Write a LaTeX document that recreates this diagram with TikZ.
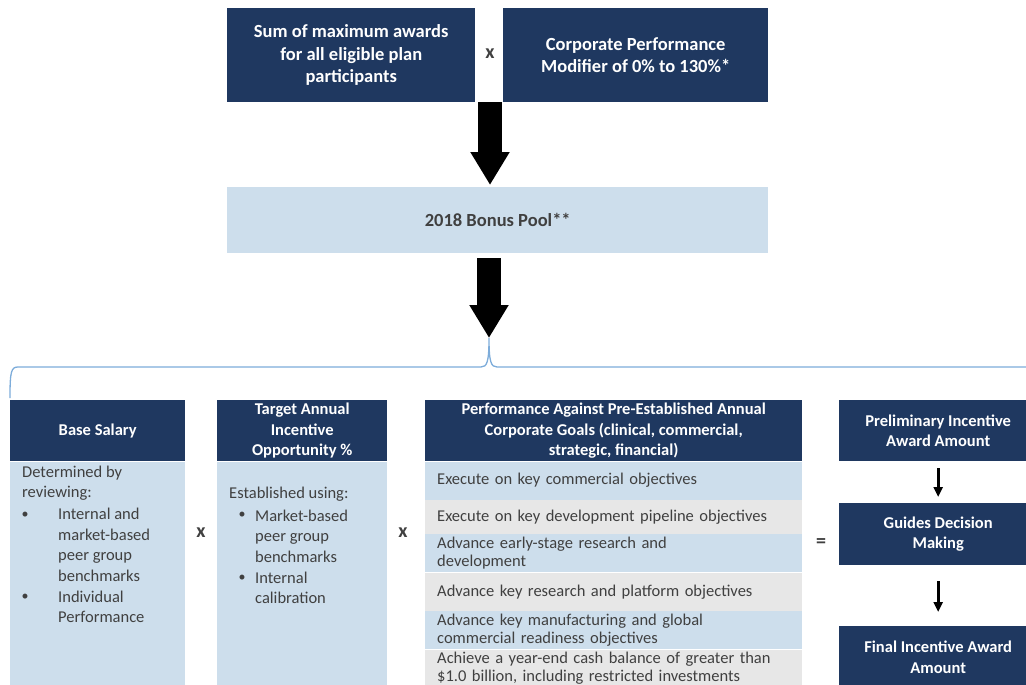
\documentclass[tikz,border=0pt]{standalone}
\usepackage{fontspec}
\setmainfont{Carlito}
\usetikzlibrary{positioning,arrows.meta}
\definecolor{navy}{RGB}{31,56,96}
\definecolor{paleblue}{RGB}{205,222,236}
\definecolor{palegrey}{RGB}{231,231,231}
\definecolor{bracecol}{RGB}{125,172,218}
\definecolor{ink}{RGB}{64,64,64}
\begin{document}
\begin{tikzpicture}[x=1pt,y=-1pt,
		tophead/.style={fill=navy,text=white,align=center,inner sep=0pt,anchor=north west,
			font=\fontsize{18.5}{22.5}\selectfont\bfseries},
		colhead/.style={fill=navy,text=white,align=center,inner sep=0pt,anchor=north west,
			font=\fontsize{16.5}{20.5}\selectfont\bfseries},
		colbody/.style={fill=paleblue,inner sep=0pt},
		goal/.style={inner xsep=12pt,inner ysep=0pt,text width=353pt,align=left,text=ink,
			font=\fontsize{16.5}{18}\selectfont},
		bluerow/.style={goal,fill=paleblue},
		greyrow/.style={goal,fill=palegrey},
		bodytxt/.style={inner sep=0pt,anchor=west,align=left,text=ink,
			font=\fontsize{16.5}{20.5}\selectfont},
		bul/.style={inner sep=0pt,text=ink,font=\fontsize{14}{14}\selectfont},
		sign/.style={inner sep=0pt,text=ink,font=\fontsize{20}{20}\selectfont\bfseries},
		bigarrow/.style={line width=24pt,-{Triangle[width=37pt,length=33pt]}},
		smallarrow/.style={line width=3pt,-{Triangle[width=9pt,length=10pt]}}]

	\useasboundingbox (0,0) rectangle (1026,685);

	% top row
	\node[tophead,minimum width=248,minimum height=94] (sum) at (227,8)
		{Sum of maximum awards\\for all eligible plan\\participants};
	\node[tophead,minimum width=265,minimum height=94] (modifier) at (503,8)
		{Corporate Performance\\Modifier of 0\% to 130\%*};
	\node[sign] (times0) at (490,54) {x};
	\node[fill=paleblue,anchor=north west,inner sep=0pt,minimum width=541,minimum height=66,
		text=ink,font=\fontsize{18.5}{22.5}\selectfont\bfseries] (pool) at (227,187) {2018 Bonus Pool**};
	\draw[bigarrow,shorten >=2pt] (times0 |- sum.south) -- (times0 |- pool.north);

	\coordinate (tip) at (489,338);
	\draw[bigarrow,shorten <=5pt] (tip |- pool.south) -- (tip);
	\draw[bracecol,line width=1.3pt] (10,398) .. controls (10,372) and (11,367) .. (18,367)
		-- (481,367) .. controls (487,367) and (489,362) .. (tip)
		.. controls (489,362) and (491,367) .. (497,367) -- (1030,367);

	% base salary
	\node[colhead,minimum width=175,minimum height=61] (base) at (10,400) {Base Salary};
	\node[colbody,minimum width=175,minimum height=224,below=0pt of base] (basebody) {};
	\node[bodytxt] (base-intro) at (22,483) {Determined by\\reviewing:};
	\node[bul] (bb1) at (25,515) {\textbullet};
	\node[bodytxt] (base-item1) at (58,545) {Internal and\\market-based\\peer group\\benchmarks};
	\node[bul] (bb2) at (25,597) {\textbullet};
	\node[bodytxt] (base-item2) at (58,607) {Individual\\Performance};

	\node[sign] (times1) at (201,533) {x};

	% target opportunity
	\node[colhead,minimum width=170,minimum height=61] (target) at (217,400)
		{Target Annual\\Incentive\\Opportunity \%};
	\node[colbody,minimum width=170,minimum height=224,below=0pt of target] (targetbody) {};
	\node[bodytxt] (target-intro) at (229,494) {Established using:};
	\node[bul] (tb1) at (242,515) {\textbullet};
	\node[bodytxt] (target-item1) at (255,536) {Market-based\\peer group\\benchmarks};
	\node[bul] (tb2) at (242,578) {\textbullet};
	\node[bodytxt] (target-item2) at (255,588) {Internal\\calibration};

	\node[sign] (times2) at (403,533) {x};

	% corporate goals
	\node[colhead,minimum width=377,minimum height=61] (goals) at (425,400)
		{Performance Against Pre-Established Annual\\Corporate Goals (clinical, commercial,\\strategic, financial)};
	\node[bluerow,minimum height=38,below=0pt of goals] (g1) {Execute on key commercial objectives};
	\node[greyrow,minimum height=34,below=0pt of g1] (g2) {Execute on key development pipeline objectives};
	\node[bluerow,minimum height=38,below=0pt of g2] (g3) {Advance early-stage research and\\development};
	\node[greyrow,minimum height=38,below=0pt of g3] (g4) {Advance key research and platform objectives};
	\node[bluerow,minimum height=38,below=0pt of g4] (g5) {Advance key manufacturing and global\\commercial readiness objectives};
	\node[greyrow,minimum height=38,below=0pt of g5] (g6) {Achieve a year-end cash balance of greater than\\\$1.0 billion, including restricted investments};

	\node[sign] (equals) at (821,543) {=};

	% award steps
	\node[colhead,minimum width=198,minimum height=61] (prelim) at (839,400)
		{Preliminary Incentive\\Award Amount};
	\node[colhead,minimum width=198,minimum height=62] (guides) at (839,503)
		{Guides Decision\\Making};
	\node[colhead,minimum width=198,minimum height=62] (final) at (839,626)
		{Final Incentive Award\\Amount};
	\draw[smallarrow,shorten <=7pt,shorten >=6pt] (prelim) -- (guides);
	\draw[smallarrow,shorten <=16pt,shorten >=14pt] (guides) -- (final);
\end{tikzpicture}
\end{document}
